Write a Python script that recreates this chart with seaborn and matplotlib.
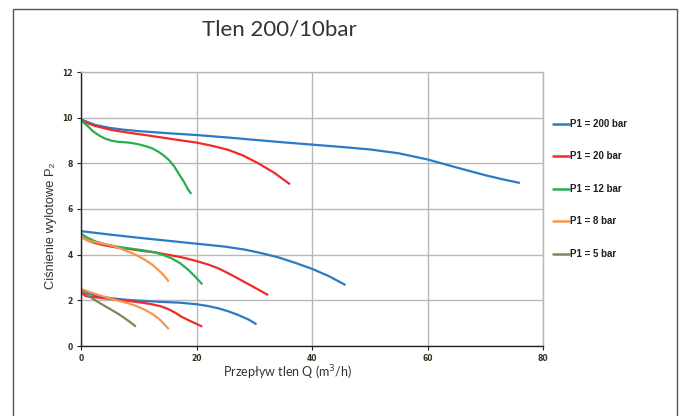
import matplotlib
matplotlib.use("Agg")
import matplotlib.pyplot as plt
import seaborn as sns
import pandas as pd
from matplotlib.patches import Rectangle

# ---- data ----
series_names = ["P1 = 200 bar", "P1 = 20 bar", "P1 = 12 bar", "P1 = 8 bar", "P1 = 5 bar"]
colors = ["#2a7ac6", "#f22a2a", "#27ae52", "#f7964a", "#84845a"]

# P1 = 200 bar
q_200_hi = [0, 1, 2.5, 5, 7.5, 10, 15, 20, 25, 30, 35, 40, 45, 50, 55, 60, 65, 70, 73, 76]
p_200_hi = [9.93, 9.82, 9.68, 9.55, 9.47, 9.41, 9.32, 9.24, 9.14, 9.03, 8.92, 8.82, 8.72, 8.61, 8.44, 8.17, 7.82, 7.48, 7.3, 7.14]
q_200_mid = [0, 5, 10, 15, 20, 25, 28.4, 31, 34.2, 37, 40, 43, 45.8]
p_200_mid = [5.03, 4.88, 4.74, 4.61, 4.48, 4.35, 4.22, 4.08, 3.88, 3.65, 3.38, 3.05, 2.67]
q_200_lo = [0, 1, 2.4, 5.3, 8, 11.1, 14, 16.9, 20, 22, 23.8, 25.5, 27.2, 29, 30.4]
p_200_lo = [2.45, 2.33, 2.2, 2.09, 2.02, 1.97, 1.93, 1.9, 1.83, 1.75, 1.65, 1.52, 1.36, 1.16, 0.95]

# P1 = 20 bar
q_20_hi = [0, 1, 2.4, 5.3, 8, 11.1, 14, 16.9, 20, 23, 25.5, 28, 30.7, 33.5, 36.2]
p_20_hi = [9.9, 9.77, 9.64, 9.46, 9.35, 9.24, 9.13, 9.02, 8.91, 8.75, 8.59, 8.35, 8.0, 7.58, 7.08]
q_20_mid = [0, 0.5, 1.3, 2.5, 4.2, 6, 8.2, 10.5, 12.8, 15, 16.9, 18.5, 20, 22, 23.8, 26, 28.4, 30.5, 32.4]
p_20_mid = [4.83, 4.72, 4.6, 4.5, 4.4, 4.32, 4.25, 4.17, 4.1, 4.0, 3.91, 3.82, 3.72, 3.57, 3.4, 3.12, 2.79, 2.5, 2.23]
q_20_lo = [0, 0.3, 0.7, 1.5, 3, 5.5, 8.2, 10.5, 12.2, 13.8, 15.1, 16.3, 17.4, 19.2, 21]
p_20_lo = [2.41, 2.3, 2.2, 2.15, 2.12, 2.05, 1.97, 1.9, 1.83, 1.74, 1.62, 1.46, 1.28, 1.06, 0.85]

# P1 = 12 bar
q_12_hi = [0, 0.6, 1.3, 2, 3, 4, 5.3, 6.5, 8.2, 9.7, 11.1, 12.3, 13.4, 14.3, 15.2, 16.1, 16.9, 17.8, 18.6, 19.1]
p_12_hi = [9.9, 9.75, 9.6, 9.42, 9.24, 9.1, 8.99, 8.94, 8.91, 8.85, 8.76, 8.66, 8.51, 8.35, 8.15, 7.88, 7.56, 7.2, 6.83, 6.66]
q_12_mid = [0, 0.5, 1.3, 2.5, 4.2, 6, 8.2, 10.5, 12.8, 14.3, 15.7, 17.2, 18.6, 19.8, 21]
p_12_mid = [4.94, 4.84, 4.72, 4.58, 4.45, 4.36, 4.28, 4.2, 4.1, 3.98, 3.84, 3.62, 3.33, 3.03, 2.7]

# P1 = 8 bar
q_8_mid = [0, 0.5, 1.3, 3, 5.3, 6.8, 8.2, 9.7, 11.1, 12.3, 13.4, 14.4, 15.2]
p_8_mid = [4.86, 4.7, 4.6, 4.52, 4.4, 4.27, 4.13, 3.97, 3.77, 3.57, 3.33, 3.08, 2.82]
q_8_lo = [0, 1.5, 3.5, 5.3, 6.8, 8.2, 9.7, 11.1, 12.3, 13.4, 14.3, 15.2]
p_8_lo = [2.5, 2.36, 2.2, 2.06, 1.96, 1.87, 1.74, 1.58, 1.41, 1.21, 0.99, 0.74]

# P1 = 5 bar
q_5_lo = [0, 1.2, 2.4, 3.8, 5.3, 6.5, 7.6, 8.6, 9.5]
p_5_lo = [2.45, 2.22, 2.01, 1.8, 1.58, 1.4, 1.21, 1.03, 0.85]

curves = [
    (series_names[0], "200_hi", q_200_hi, p_200_hi),
    (series_names[0], "200_mid", q_200_mid, p_200_mid),
    (series_names[0], "200_lo", q_200_lo, p_200_lo),
    (series_names[1], "20_hi", q_20_hi, p_20_hi),
    (series_names[1], "20_mid", q_20_mid, p_20_mid),
    (series_names[1], "20_lo", q_20_lo, p_20_lo),
    (series_names[2], "12_hi", q_12_hi, p_12_hi),
    (series_names[2], "12_mid", q_12_mid, p_12_mid),
    (series_names[3], "8_mid", q_8_mid, p_8_mid),
    (series_names[3], "8_lo", q_8_lo, p_8_lo),
    (series_names[4], "5_lo", q_5_lo, p_5_lo),
]
rows = []
for s, c, qs, ps in curves:
    for q, p in zip(qs, ps):
        rows.append({"Q": q, "P2": p, "series": s, "curve": c})
df = pd.DataFrame(rows)

x_ticks = [0, 20, 40, 60, 80]
y_ticks = [0, 2, 4, 6, 8, 10, 12]

# ---- figure ----
sns.set_theme(style="white")
plt.rcParams["font.family"] = ["DejaVu Sans"]

fig = plt.figure(figsize=(6.79, 4.16), dpi=100)
ax = fig.add_axes([81 / 679, 1 - 346 / 416, (543 - 81) / 679, (346 - 72) / 416])

sns.lineplot(data=df, x="Q", y="P2", hue="series", units="curve", estimator=None,
             sort=False, palette=dict(zip(series_names, colors)),
             hue_order=series_names, linewidth=1.6, ax=ax, legend=False)
for ln in ax.get_lines():
    ln.set_solid_joinstyle("round")
    ln.set_solid_capstyle("butt")

ax.set_xlim(0, 80)
ax.set_ylim(0, 12)
ax.set_xticks(x_ticks)
ax.set_yticks(y_ticks)
ax.grid(True, color="#b8b8b8", linewidth=1.0)
ax.set_axisbelow(True)
for side in ["top", "right"]:
    ax.spines[side].set_color("#b8b8b8")
    ax.spines[side].set_linewidth(1.0)
for side in ["left", "bottom"]:
    ax.spines[side].set_color("#222222")
    ax.spines[side].set_linewidth(1.0)
ax.tick_params(axis="both", which="major", direction="out", length=3, width=0.8,
               color="#222222", labelsize=5.5, pad=3, labelcolor="#3a2e1e",
               left=True, bottom=True)
for lab in ax.get_xticklabels() + ax.get_yticklabels():
    lab.set_fontweight("bold")

ax.set_xlabel("Przepływ tlen Q (m$^3$/h)", fontsize=9, color="#333333",
              family="Lato")
ax.xaxis.set_label_coords((288 - 81) / 462, -0.065)
ax.set_ylabel("Ciśnienie wylotowe P₂", fontsize=9.3, color="#333333",
              family=["Liberation Sans", "DejaVu Sans"])
ax.yaxis.set_label_coords(-0.052, 0.44)

fig.text(279 / 679, 1 - 30 / 416, "Tlen 200/10bar", ha="center", va="center",
         fontsize=16, color="#333333", family="Lato")

# legend on the right
leg_y = [124, 156, 189, 221, 254]
for name, col, yy in zip(series_names, colors, leg_y):
    yf = 1 - yy / 416
    fig.add_artist(plt.Line2D([553 / 679, 569 / 679], [yf, yf], color=col,
                              linewidth=1.8, transform=fig.transFigure))
    fig.text(570 / 679, yf, name, ha="left", va="center", fontsize=7,
             fontweight="bold", color="#1e1e1e", family="Liberation Sans")

# outer frame
fig.add_artist(Rectangle((13 / 679, -0.05), (677 - 13) / 679, 1.05 - 9 / 416,
                         transform=fig.transFigure, fill=False,
                         edgecolor="#555555", linewidth=1.0))

fig.savefig("out.png", dpi=100)
